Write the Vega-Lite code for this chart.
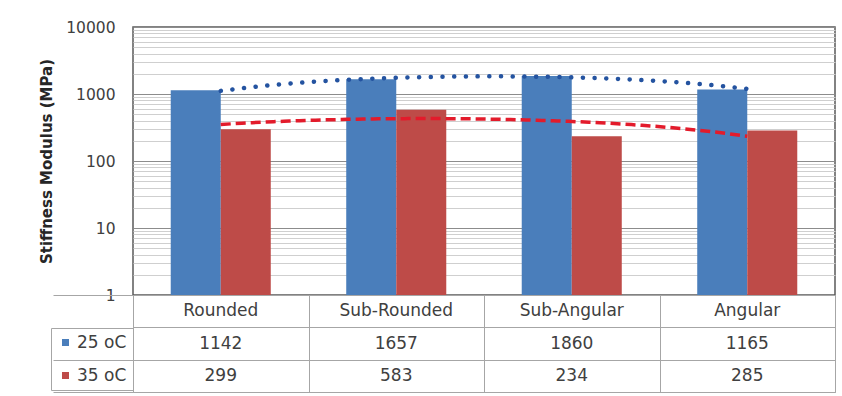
{
  "$schema": "https://vega.github.io/schema/vega-lite/v6.json",
  "padding": {"left": 38, "top": 19, "right": 6, "bottom": 4},
  "background": "white",
  "bounds": "flush",
  "spacing": 0,
  "config": {"font": "DejaVu Sans"},
  "datasets": {
    "stiff": [
      {"shape": "Rounded", "temp": "25 oC", "v": 1142},
      {"shape": "Sub-Rounded", "temp": "25 oC", "v": 1657},
      {"shape": "Sub-Angular", "temp": "25 oC", "v": 1860},
      {"shape": "Angular", "temp": "25 oC", "v": 1165},
      {"shape": "Rounded", "temp": "35 oC", "v": 299},
      {"shape": "Sub-Rounded", "temp": "35 oC", "v": 583},
      {"shape": "Sub-Angular", "temp": "35 oC", "v": 234},
      {"shape": "Angular", "temp": "35 oC", "v": 285}
    ]
  },
  "resolve": {"scale": {"x": "independent", "y": "independent"}},
  "vconcat": [
    {
      "width": 702,
      "height": 268,
      "view": {"stroke": "#595959", "strokeWidth": 1.5},
      "resolve": {"scale": {"x": "independent"}},
      "layer": [
        {
          "data": {"name": "stiff"},
          "mark": {"type": "bar"},
          "encoding": {
            "x": {
              "field": "shape", "type": "nominal", "sort": null,
              "scale": {"domain": ["Rounded", "Sub-Rounded", "Sub-Angular", "Angular"], "paddingInner": 0.43, "paddingOuter": 0.215},
              "axis": null
            },
            "xOffset": {"field": "temp", "type": "nominal", "scale": {"paddingInner": 0, "paddingOuter": 0}},
            "y": {
              "field": "v", "type": "quantitative",
              "scale": {"type": "log", "domain": [1, 10000], "nice": false},
              "axis": {
                "title": "Stiffness Modulus (MPa)",
                "values": [1, 2, 3, 4, 5, 6, 7, 8, 9, 10, 20, 30, 40, 50, 60, 70, 80, 90, 100, 200, 300, 400, 500, 600, 700, 800, 900, 1000, 2000, 3000, 4000, 5000, 6000, 7000, 8000, 9000, 10000],
                "format": "d",
                "labelExpr": "indexof([1, 10, 100, 1000, 10000], datum.value) >= 0 ? datum.label : ''",
                "gridColor": {"condition": {"test": "indexof([1, 10, 100, 1000, 10000], datum.value) >= 0", "value": "#8c8c8c"}, "value": "#cfcfcf"},
                "ticks": false,
                "domain": false,
                "labelOverlap": false,
                "labelBound": false,
                "labelFlush": false,
                "labelPadding": 18,
                "labelFontSize": 15.5,
                "labelColor": "#404040",
                "titleFontSize": 15,
                "titleFontWeight": "bold",
                "titleColor": "#262626",
                "titlePadding": 11
              }
            },
            "y2": {"datum": 1},
            "color": {
              "field": "temp", "type": "nominal",
              "scale": {"domain": ["25 oC", "35 oC"], "range": ["#4a7ebb", "#be4b48"]},
              "legend": {
                "title": null,
                "orient": "none",
                "legendX": -82,
                "legendY": 301,
                "symbolType": "square",
                "symbolSize": 49,
                "symbolStrokeWidth": 0,
                "labelFontSize": 17,
                "labelColor": "#404040",
                "labelOffset": 3,
                "rowPadding": 15,
                "padding": 6,
                "strokeColor": "#a6a6a6"
              }
            }
          }
        },
        {
          "data": {"name": "stiff"},
          "transform": [
            {"filter": "datum.temp === '25 oC'"},
            {"window": [{"op": "row_number", "as": "n"}]},
            {"regression": "v", "on": "n", "method": "poly", "order": 2, "extent": [1, 4]}
          ],
          "mark": {"type": "line", "color": "#2453a0", "strokeWidth": 4.5, "strokeDash": [0.1, 11.6], "strokeCap": "round"},
          "encoding": {
            "x": {"field": "n", "type": "quantitative", "scale": {"domain": [0.5, 4.5], "nice": false, "zero": false}, "axis": null},
            "y": {"field": "v", "type": "quantitative"}
          }
        },
        {
          "data": {"name": "stiff"},
          "transform": [
            {"filter": "datum.temp === '35 oC'"},
            {"window": [{"op": "row_number", "as": "n"}]},
            {"regression": "v", "on": "n", "method": "poly", "order": 2, "extent": [1, 4]}
          ],
          "mark": {"type": "line", "color": "#e31b2b", "strokeWidth": 3.5, "strokeDash": [10, 5]},
          "encoding": {
            "x": {"field": "n", "type": "quantitative", "scale": {"domain": [0.5, 4.5], "nice": false, "zero": false}, "axis": null},
            "y": {"field": "v", "type": "quantitative"}
          }
        }
      ]
    },
    {
      "width": 702,
      "height": 97,
      "view": {"stroke": "#a6a6a6"},
      "layer": [
        {
          "data": {"name": "stiff"},
          "mark": {"type": "text", "fontSize": 17, "color": "#404040"},
          "encoding": {
            "x": {
              "field": "shape", "type": "nominal", "sort": null,
              "scale": {"domain": ["Rounded", "Sub-Rounded", "Sub-Angular", "Angular"], "padding": 0},
              "axis": {"grid": true, "tickBand": "extent", "ticks": false, "labels": false, "domain": false, "title": null, "gridColor": "#a6a6a6"}
            },
            "y": {
              "field": "temp", "type": "nominal",
              "scale": {"domain": ["hdr", "25 oC", "35 oC"], "padding": 0},
              "axis": {
                "grid": true, "tickBand": "extent", "labels": false, "domain": false, "title": null,
                "ticks": true, "tickSize": 80,
                "tickColor": {"condition": {"test": "datum.value === 'hdr'", "value": "transparent"}, "value": "#a6a6a6"},
                "gridColor": "#a6a6a6"
              }
            },
            "text": {"field": "v", "type": "quantitative", "format": "d"}
          }
        },
        {
          "data": {"name": "stiff"},
          "transform": [{"filter": "datum.temp === '25 oC'"}],
          "mark": {"type": "text", "fontSize": 17, "color": "#404040"},
          "encoding": {
            "x": {"field": "shape", "type": "nominal", "sort": null},
            "y": {"datum": "hdr", "type": "nominal"},
            "text": {"field": "shape"}
          }
        }
      ]
    }
  ]
}
